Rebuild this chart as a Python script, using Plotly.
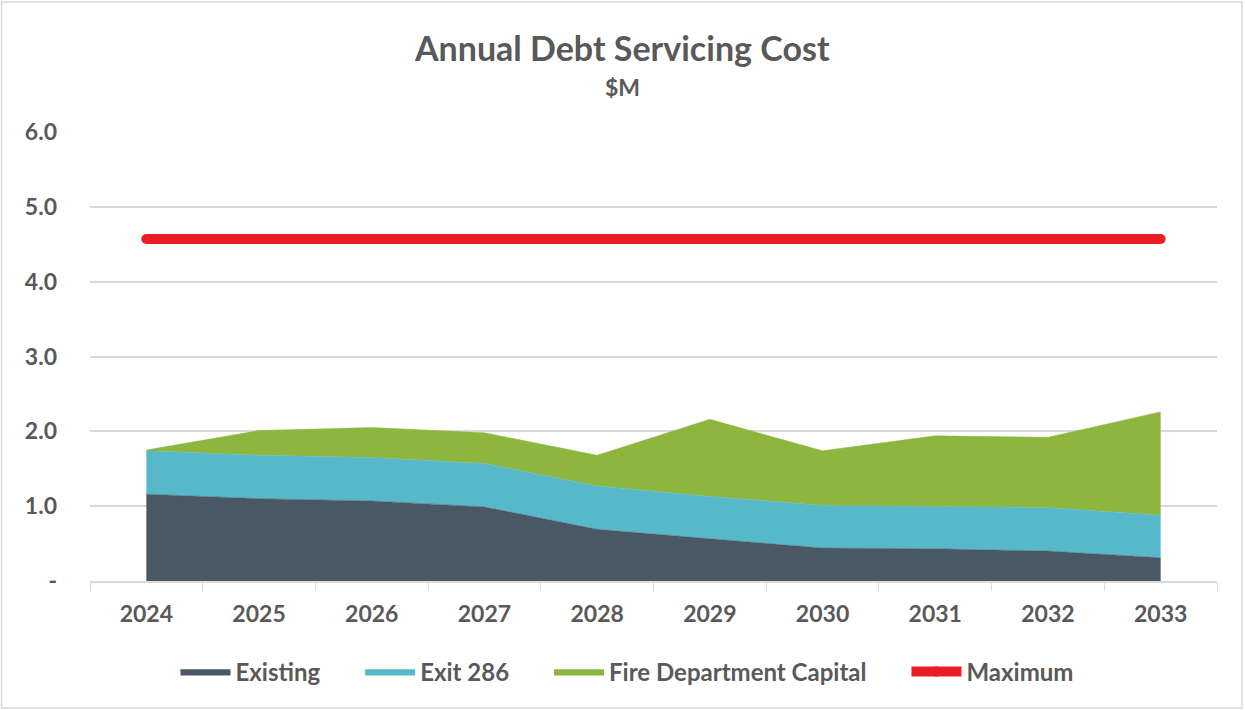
import plotly.graph_objects as go

years = ["2024", "2025", "2026", "2027", "2028", "2029", "2030", "2031", "2032", "2033"]
existing = [1.16, 1.10, 1.07, 0.99, 0.69, 0.56, 0.44, 0.43, 0.40, 0.31]
exit_286 = [0.58, 0.58, 0.58, 0.58, 0.58, 0.57, 0.57, 0.57, 0.58, 0.57]
fire_capital = [0.01, 0.33, 0.40, 0.41, 0.41, 1.03, 0.73, 0.94, 0.94, 1.38]
maximum = [4.57] * len(years)

y_ticks = [0, 1, 2, 3, 4, 5, 6]
y_tick_text = ["-", "1.0", "2.0", "3.0", "4.0", "5.0", "6.0"]

FONT = "Lato"
TEXT = "#595959"
W, H = 1245, 710
M_L, M_R, M_T, M_B = 90, 28, 132, 129
plot_w = W - M_L - M_R
plot_h = H - M_T - M_B
GAP = "\u00a0" * 6  # spacing between legend entries


def px_x(px):
    return (px - M_L) / plot_w


def px_y(py):
    return (H - M_B - py) / plot_h


fig = go.Figure()
for name, vals, color in [
    ("Existing", existing, "#4a5866"),
    ("Exit 286", exit_286, "#57b8c9"),
    ("Fire Department Capital", fire_capital, "#8db63f"),
]:
    fig.add_trace(go.Scatter(
        x=years, y=vals, name=name + GAP, mode="lines", stackgroup="debt",
        line=dict(width=0.5, color=color), fillcolor=color,
    ))

# ceiling line; round markers give it rounded ends
fig.add_trace(go.Scatter(
    x=years, y=maximum, name="Maximum", mode="lines+markers",
    line=dict(width=10, color="#e91e25"),
    marker=dict(size=10, color="#e91e25", line=dict(width=0)),
))

fig.update_layout(
    width=W, height=H,
    margin=dict(l=M_L, r=M_R, t=M_T, b=M_B),
    paper_bgcolor="white", plot_bgcolor="white",
    font=dict(family=FONT, color=TEXT, size=20),
    showlegend=True,
    legend=dict(
        orientation="h", x=px_x(627), xanchor="center", y=px_y(672), yanchor="middle",
        font=dict(family=FONT, size=24, color=TEXT, weight="bold"),
        itemwidth=50, traceorder="normal",
    ),
    xaxis=dict(
        type="category", range=[-0.5, 9.5],
        showline=True, linecolor="#d9d9d9", linewidth=1.5,
        ticks="outside", tickson="boundaries", ticklen=8, tickcolor="#d9d9d9",
        tickfont=dict(family=FONT, size=23, color=TEXT, weight="bold"),
        ticklabelstandoff=12, showgrid=False,
    ),
    yaxis=dict(
        range=[0, 6], tickvals=y_ticks, ticktext=y_tick_text,
        showgrid=True, gridcolor="#d9d9d9", gridwidth=1.5,
        zeroline=False, showline=False,
        tickfont=dict(family=FONT, size=23, color=TEXT, weight="bold"),
        ticklabelstandoff=32,
    ),
    annotations=[
        dict(text="<b>Annual Debt Servicing Cost</b>", x=px_x(622), y=px_y(47),
             xref="paper", yref="paper", xanchor="center", yanchor="middle",
             showarrow=False, font=dict(family=FONT, size=34, color=TEXT)),
        dict(text="<b>$M</b>", x=px_x(622), y=px_y(87),
             xref="paper", yref="paper", xanchor="center", yanchor="middle",
             showarrow=False, font=dict(family=FONT, size=23, color=TEXT)),
    ],
    shapes=[dict(type="rect", xref="paper", yref="paper",
                 x0=px_x(1.5), x1=px_x(1242), y0=px_y(708), y1=px_y(2),
                 line=dict(color="#d9d9d9", width=1.5))],
)

fig.write_html("out.html")
